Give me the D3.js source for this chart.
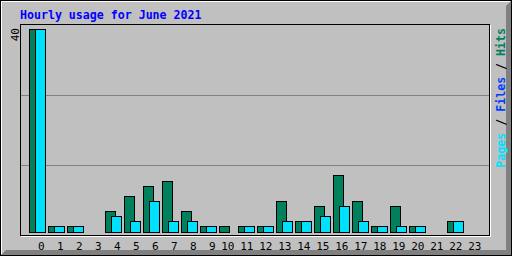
<!DOCTYPE html>
<html>
<head>
<meta charset="utf-8">
<script src="https://cdn.jsdelivr.net/npm/d3@7"></script>
<style>
  body { margin: 0; background: #fff; }
  svg { display: block; }
  text { font-family: "DejaVu Sans Mono", monospace; }
</style>
</head>
<body>
<div id="chart"></div>
<script>
// hourly stats
var hours = d3.range(0, 24);
var hits  = [40, 1, 1, 0, 4, 7, 9, 10, 4, 1, 1, 1, 1, 6, 2, 5, 11, 6, 1, 5, 1, 0, 2, 0];
var pages = [40, 1, 1, 0, 3, 2, 6, 2, 2, 1, 0, 1, 1, 2, 2, 3, 5, 2, 1, 1, 1, 0, 2, 0];
var maxVal = 40;
var title = "Hourly usage for June 2021";

var W = 512, H = 256;
var svg = d3.select("#chart").append("svg").attr("width", W).attr("height", H);

// background + 3d frame
svg.append("rect").attr("width", W).attr("height", H).attr("fill", "#c0c0c0");
svg.append("polygon")
  .attr("points", [[511,1],[511,255],[1,255],[6,250],[506,250],[506,6]].join(" "))
  .attr("fill", "#808080");
svg.append("path").attr("d", "M1.5,254 V1.5 H510").attr("stroke", "#fff").attr("fill", "none");
svg.append("rect").attr("x", 0.5).attr("y", 0.5).attr("width", 511).attr("height", 255)
  .attr("stroke", "#000").attr("fill", "none");

// plot box (black, with white offset)
svg.append("rect").attr("x", 21.5).attr("y", 25.5).attr("width", 469).attr("height", 211)
  .attr("stroke", "#fff").attr("fill", "none");
svg.append("rect").attr("x", 20.5).attr("y", 24.5).attr("width", 469).attr("height", 211)
  .attr("stroke", "#000").attr("fill", "#c0c0c0");

// grid at thirds of the box
var g = d3.scaleLinear().domain([0, 3]).range([235, 25]);
svg.selectAll("line.grid").data([1, 2]).enter().append("line")
  .attr("class", "grid")
  .attr("x1", 21).attr("x2", 489)
  .attr("y1", function(d){ return Math.round(g(d)) + 0.5; })
  .attr("y2", function(d){ return Math.round(g(d)) + 0.5; })
  .attr("stroke", "#808080");

var x = d3.scaleLinear().domain([0, 24]).range([29, 29 + 24 * 19]);
var y = d3.scaleLinear().domain([0, maxVal]).range([231, 29]);
var base = y(0) + 1;

function drawSeries(data, off, color) {
  var grp = svg.append("g");
  data.forEach(function(v, i) {
    if (v <= 0) return;
    var top = Math.round(y(v));
    grp.append("rect")
      .attr("x", x(hours[i]) + off + 0.5)
      .attr("y", top + 0.5)
      .attr("width", 10)
      .attr("height", base - top)
      .attr("fill", color)
      .attr("stroke", "#000");
  });
}
drawSeries(hits, 0, "#00805c");
drawSeries(pages, 6, "#00e0ff");

// hour labels
svg.append("g").selectAll("text").data(hours).enter().append("text")
  .attr("x", function(d){ return x(d) + 15.5; })
  .attr("y", 249.5)
  .attr("text-anchor", "end")
  .attr("font-size", "11px")
  .attr("fill", "#000")
  .text(function(d){ return d; });

// max label
svg.append("text")
  .attr("transform", "translate(18.5,28) rotate(-90)")
  .attr("text-anchor", "end")
  .attr("font-size", "11px")
  .attr("fill", "#000")
  .text(maxVal);

// title
svg.append("text")
  .attr("x", 20).attr("y", 19)
  .attr("font-size", "11.6px")
  .attr("font-weight", "bold")
  .attr("fill", "#0000ff")
  .text(title);

// legend, reads upward on the right
var leg = svg.append("text")
  .attr("transform", "translate(505,28) rotate(-90)")
  .attr("text-anchor", "end")
  .attr("font-size", "11.6px")
  .attr("font-weight", "bold");
[["Pages", "#00e0ff"], [" / ", "#000"], ["Files", "#0040ff"], [" / ", "#000"], ["Hits", "#00805c"]]
  .forEach(function(p){ leg.append("tspan").attr("fill", p[1]).text(p[0]); });
</script>
</body>
</html>
